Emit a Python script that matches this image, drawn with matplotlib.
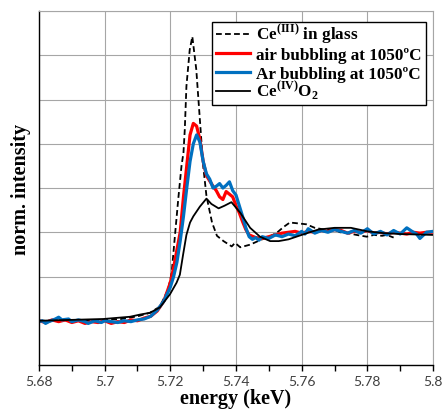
import matplotlib
matplotlib.use("Agg")
import numpy as np
import matplotlib.pyplot as plt
from matplotlib.ticker import MultipleLocator
from matplotlib.transforms import Bbox
from matplotlib.patches import Rectangle

plt.rcParams['mathtext.fontset'] = 'custom'
plt.rcParams['mathtext.rm'] = 'Liberation Serif:bold'
plt.rcParams['mathtext.bf'] = 'Liberation Serif:bold'

# ---- data ----
ce3_E = [5.680, 5.690, 5.700, 5.705, 5.710, 5.7138, 5.7168, 5.7193, 5.7204, 5.7214, 5.7224,
         5.7234, 5.7240, 5.7244, 5.7249, 5.7259, 5.7267, 5.7279, 5.7290, 5.7300, 5.7310,
         5.7327, 5.7342, 5.7362, 5.7387, 5.7397, 5.7413, 5.7443, 5.7473, 5.7500, 5.7523,
         5.7545, 5.7564, 5.7590, 5.7614, 5.7640, 5.7670, 5.7700, 5.7717, 5.7740, 5.7767,
         5.7798, 5.7820, 5.7845, 5.7859, 5.7880]
ce3_I = [0.00, 0.00, 0.01, 0.02, 0.05, 0.09, 0.16, 0.35, 0.54, 0.96, 1.37,
         1.75, 1.90, 2.16, 2.65, 3.06, 3.21, 2.84, 2.27, 1.75, 1.41,
         1.11, 0.96, 0.90, 0.84, 0.88, 0.83, 0.86, 0.91, 0.95, 0.99,
         1.06, 1.11, 1.10, 1.09, 1.05, 1.03, 1.03, 1.00, 0.99, 0.97,
         0.95, 0.97, 0.96, 0.97, 0.94]

air_E = [5.680, 5.682, 5.684, 5.686, 5.688, 5.690, 5.692, 5.694, 5.696, 5.698, 5.700,
         5.702, 5.704, 5.706, 5.708, 5.710, 5.712, 5.714, 5.716, 5.718, 5.720, 5.721,
         5.722, 5.723, 5.724, 5.725, 5.726, 5.727, 5.728, 5.729, 5.730, 5.731, 5.732,
         5.733, 5.734, 5.735, 5.736, 5.737, 5.738, 5.739, 5.740, 5.741, 5.742, 5.743,
         5.744, 5.746, 5.748, 5.750, 5.752, 5.754, 5.756, 5.758, 5.760, 5.762, 5.764,
         5.766, 5.768, 5.770, 5.772, 5.774, 5.776, 5.778, 5.780, 5.782, 5.784, 5.786,
         5.788, 5.790, 5.792, 5.794, 5.796, 5.798, 5.800]
air_I = [0.00, -0.02, 0.01, -0.01, 0.01, -0.02, 0.00, -0.03, -0.01, -0.02, 0.00,
         -0.03, -0.01, -0.02, 0.01, 0.00, 0.03, 0.05, 0.11, 0.22, 0.43, 0.60,
         0.80, 1.00, 1.40, 1.75, 2.10, 2.23, 2.20, 2.05, 1.80, 1.64, 1.58,
         1.52, 1.47, 1.40, 1.37, 1.46, 1.43, 1.40, 1.30, 1.22, 1.12, 1.03,
         0.97, 0.94, 0.93, 0.95, 0.97, 0.99, 1.00, 1.01, 0.99, 1.01, 1.00,
         1.02, 1.01, 1.03, 1.02, 0.99, 1.01, 1.00, 1.02, 0.99, 1.00, 0.98,
         1.00, 0.99, 0.98, 1.00, 0.99, 1.00, 1.00]

ar_E = [5.680, 5.681, 5.682, 5.683, 5.685, 5.686, 5.687, 5.689, 5.690, 5.692, 5.694,
        5.695, 5.697, 5.699, 5.700, 5.702, 5.704, 5.706, 5.708, 5.710, 5.712, 5.714,
        5.716, 5.718, 5.720, 5.721, 5.722, 5.723, 5.724, 5.725, 5.726, 5.727, 5.728,
        5.729, 5.730, 5.731, 5.732, 5.733, 5.734, 5.735, 5.736, 5.737, 5.738, 5.739,
        5.740, 5.741, 5.742, 5.743, 5.744, 5.745, 5.746, 5.747, 5.748, 5.750, 5.752,
        5.754, 5.756, 5.758, 5.760, 5.761, 5.762, 5.764, 5.766, 5.768, 5.770, 5.772,
        5.774, 5.776, 5.778, 5.780, 5.782, 5.784, 5.786, 5.788, 5.790, 5.792, 5.794,
        5.795, 5.796, 5.798, 5.800]
ar_I = [-0.01, 0.00, -0.03, -0.01, 0.02, 0.04, 0.01, 0.02, -0.01, 0.01, -0.01,
        -0.03, 0.00, -0.02, 0.00, -0.01, -0.02, 0.00, -0.01, 0.01, 0.02, 0.05,
        0.12, 0.22, 0.38, 0.50, 0.66, 0.90, 1.18, 1.50, 1.80, 2.00, 2.10,
        2.02, 1.80, 1.66, 1.60, 1.50, 1.52, 1.55, 1.50, 1.53, 1.57, 1.47,
        1.42, 1.30, 1.18, 1.05, 0.95, 0.92, 0.94, 0.91, 0.95, 0.93, 0.97,
        0.95, 0.98, 0.96, 1.01, 0.98, 1.04, 0.99, 1.02, 1.00, 1.03, 1.01,
        0.99, 1.02, 0.99, 1.04, 0.98, 1.01, 0.97, 1.02, 0.98, 1.05, 1.00,
        0.98, 0.93, 1.00, 1.01]

ceo2_E = [5.680, 5.690, 5.6996, 5.7077, 5.7108, 5.7138, 5.7168, 5.7199, 5.7219, 5.7229,
          5.7239, 5.7249, 5.7260, 5.7270, 5.7290, 5.7310, 5.7325, 5.7347, 5.7365, 5.7386,
          5.7413, 5.7443, 5.7473, 5.7504, 5.7530, 5.7560, 5.7600, 5.7650, 5.7700, 5.7750,
          5.7800, 5.7850, 5.7900, 5.8000]
ceo2_I = [0.00, 0.01, 0.02, 0.045, 0.07, 0.09, 0.15, 0.30, 0.43, 0.52,
          0.75, 0.97, 1.11, 1.18, 1.29, 1.38, 1.32, 1.27, 1.30, 1.34,
          1.22, 1.05, 0.95, 0.90, 0.90, 0.92, 0.97, 1.03, 1.05, 1.05,
          1.01, 0.99, 0.98, 0.97]

labels = ['Ce$^{\\mathbf{(III)}}$ in glass', 'air bubbling at 1050ºC',
          'Ar bubbling at 1050ºC', 'Ce$^{\\mathbf{(IV)}}$O$_{\\mathbf{2}}$']
xticks = [5.68, 5.70, 5.72, 5.74, 5.76, 5.78, 5.80]
xtick_labels = ['5.68', '5.7', '5.72', '5.74', '5.76', '5.78', '5.8']

# ---- figure ----
fig = plt.figure(figsize=(4.44, 4.10), dpi=100)
ax = fig.add_axes([0.0878, 0.1073, 0.8875, 0.8634])

ax.plot(ce3_E, ce3_I, color='black', lw=1.3, ls=(0, (3.2, 1.8)), label=labels[0])
ax.plot(air_E, air_I, color='#ff0000', lw=2.3, label=labels[1])
ax.plot(ar_E, ar_I, color='#0070c0', lw=2.3, label=labels[2])
ax.plot(ceo2_E, ceo2_I, color='black', lw=1.3, label=labels[3])

ax.set_xlim(5.68, 5.80)
ax.set_ylim(-0.5, 3.5)
ax.set_xticks(xticks)
ax.set_xticklabels(xtick_labels, family='Lato', fontsize=10, color='#404040')
ax.xaxis.set_minor_locator(MultipleLocator(0.01))
ax.yaxis.set_major_locator(MultipleLocator(0.5))
ax.tick_params(axis='y', which='both', left=False, labelleft=False)
ax.tick_params(axis='x', which='both', direction='out', length=4, width=1, color='black', pad=3)
ax.grid(True, which='major', color='#a6a6a6', lw=0.8)
ax.set_axisbelow(True)

for s in ['top', 'right']:
    ax.spines[s].set_color('#a6a6a6')
    ax.spines[s].set_linewidth(0.8)
ax.spines['left'].set_color('black')
ax.spines['bottom'].set_color('black')
ax.spines['left'].set_linewidth(1.0)
ax.spines['bottom'].set_linewidth(1.0)

ax.set_xlabel('energy (keV)', family='Liberation Serif', fontweight='bold', fontsize=14.5, labelpad=1)
ax.set_ylabel('norm. intensity', family='Liberation Serif', fontweight='bold', fontsize=14.5, labelpad=6)

FS = 12.3
leg = ax.legend(loc='upper right', bbox_to_anchor=(0.9695, 0.975), frameon=False,
                prop={'family': 'Liberation Serif', 'weight': 'bold', 'size': FS},
                handlelength=1.95, handletextpad=0.35, borderpad=0.0, labelspacing=-0.628,
                handleheight=2.3, borderaxespad=0)
leg.set_zorder(6)
# centre the handle lines on the text rows
for h in leg.legend_handles:
    h.set_ydata(np.asarray(h.get_ydata(), dtype=float) - 0.24 * FS)

# draw the legend frame around its contents
fig.canvas.draw()
rend = fig.canvas.get_renderer()
bbs = [t.get_window_extent(rend) for t in leg.get_texts()] + \
      [h.get_window_extent(rend) for h in leg.legend_handles]
u = Bbox.union(bbs)
px0, py0, px1, py1 = u.x0 - 4, u.y0 - 3, u.x1 + 5, u.y1 + 0
inv = ax.transAxes.inverted()
(ax0, ay0), (ax1, ay1) = inv.transform([(px0, py0), (px1, py1)])
ax.add_patch(Rectangle((ax0, ay0), ax1 - ax0, ay1 - ay0, transform=ax.transAxes,
                       facecolor='white', edgecolor='black', lw=1.0, zorder=5.5, clip_on=False))

fig.savefig('out.png', dpi=100)
